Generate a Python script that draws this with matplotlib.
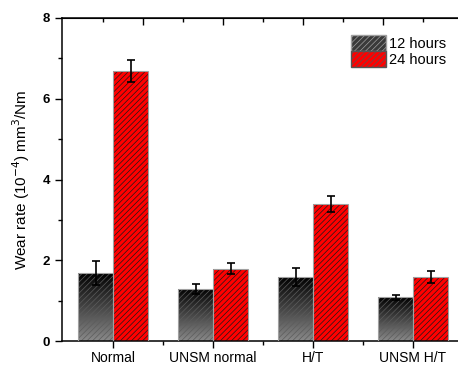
import numpy as np
import matplotlib
matplotlib.use("Agg")
import matplotlib.pyplot as plt
from matplotlib.patches import Patch

plt.rcParams['font.family'] = ['Liberation Sans', 'DejaVu Sans']
plt.rcParams['hatch.linewidth'] = 0.5

categories = ["Normal", "UNSM normal", "H/T", "UNSM H/T"]
series_names = ["12 hours", "24 hours"]
wear_12h = [1.68, 1.29, 1.58, 1.08]
err_12h = [0.29, 0.12, 0.22, 0.07]
wear_24h = [6.69, 1.79, 3.40, 1.58]
err_24h = [0.27, 0.13, 0.20, 0.15]

fig = plt.figure(figsize=(4.58, 3.65), dpi=100)
ax = fig.add_axes([62/458, 24/365, 402/458, 323/365])

x = np.arange(1, len(categories) + 1)
w = 0.35
hatch = '//////'

# black series: gradient fill clipped to the bars
grad = np.linspace(0, 1, 256).reshape(-1, 1)
cmap = matplotlib.colors.LinearSegmentedColormap.from_list('g', ['#000000', '#8a8a8a'])
bars12 = ax.bar(x - w/2, wear_12h, w, facecolor='none', edgecolor='none', zorder=2)
for b in bars12:
    im = ax.imshow(grad, cmap=cmap,
                   extent=[b.get_x(), b.get_x() + b.get_width(), 0, b.get_height()],
                   origin='upper', aspect='auto', zorder=1)
    im.set_clip_path(b)
ax.bar(x - w/2, wear_12h, w, facecolor='none', edgecolor='#5c5c5c', linewidth=0, hatch=hatch, zorder=2)
ax.bar(x - w/2, wear_12h, w, fill=False, edgecolor='#a0a0a0', linewidth=0.8, zorder=3)

ax.bar(x + w/2, wear_24h, w, facecolor='#ff0000', edgecolor='#1a1a1a', linewidth=0, hatch=hatch, zorder=2)
ax.bar(x + w/2, wear_24h, w, fill=False, edgecolor='#a0a0a0', linewidth=0.8, zorder=3)

ax.errorbar(x - w/2, wear_12h, yerr=err_12h, fmt='none', ecolor='black', elinewidth=1.2, capsize=3, capthick=1.2, zorder=4)
ax.errorbar(x + w/2, wear_24h, yerr=err_24h, fmt='none', ecolor='black', elinewidth=1.2, capsize=3, capthick=1.2, zorder=4)

ax.set_xlim(0.49, 4.51)
ax.set_ylim(0, 8)
ax.set_xticks(x)
ax.set_xticklabels(categories, fontsize=10)
ax.set_xticks(x[:-1] + 0.5, minor=True)
ax.set_yticks([0, 2, 4, 6, 8])
ax.set_yticklabels(['0', '2', '4', '6', '8'], fontsize=9.5, fontweight='bold')
ax.set_yticks([1, 3, 5, 7], minor=True)
ax.tick_params(axis='both', which='major', direction='out', length=5, width=1)
ax.tick_params(axis='both', which='minor', direction='out', length=3, width=1)
ax.tick_params(axis='x', which='major', pad=2)
ax.tick_params(axis='x', which='both', top=False)
for s in ax.spines.values():
    s.set_linewidth(1.1)

top = ax.secondary_xaxis('top')
top.set_xticks([1.3, 2.1, 2.9, 3.7])
top.set_xticks([0.9, 1.7, 2.5, 3.3, 4.1], minor=True)
top.tick_params(which='major', direction='in', length=5, width=1, labeltop=False)
top.tick_params(which='minor', direction='in', length=3, width=1)
top.set_xticklabels([])

ax.set_ylabel("Wear rate (10$^{-4}$) mm$^{3}$/Nm", fontsize=11, labelpad=8)

handles = [Patch(facecolor='#3a3a3a', edgecolor='#a0a0a0', hatch=hatch),
           Patch(facecolor='#ff0000', edgecolor='#555555', hatch=hatch)]
ax.legend(handles, series_names, loc='upper left', bbox_to_anchor=(0.705, 0.965), frameon=False,
          fontsize=10.5, handlelength=2.4, handleheight=1.25, handletextpad=0.2, labelspacing=0.05,
          borderaxespad=0)

fig.savefig("out.png", dpi=100)
